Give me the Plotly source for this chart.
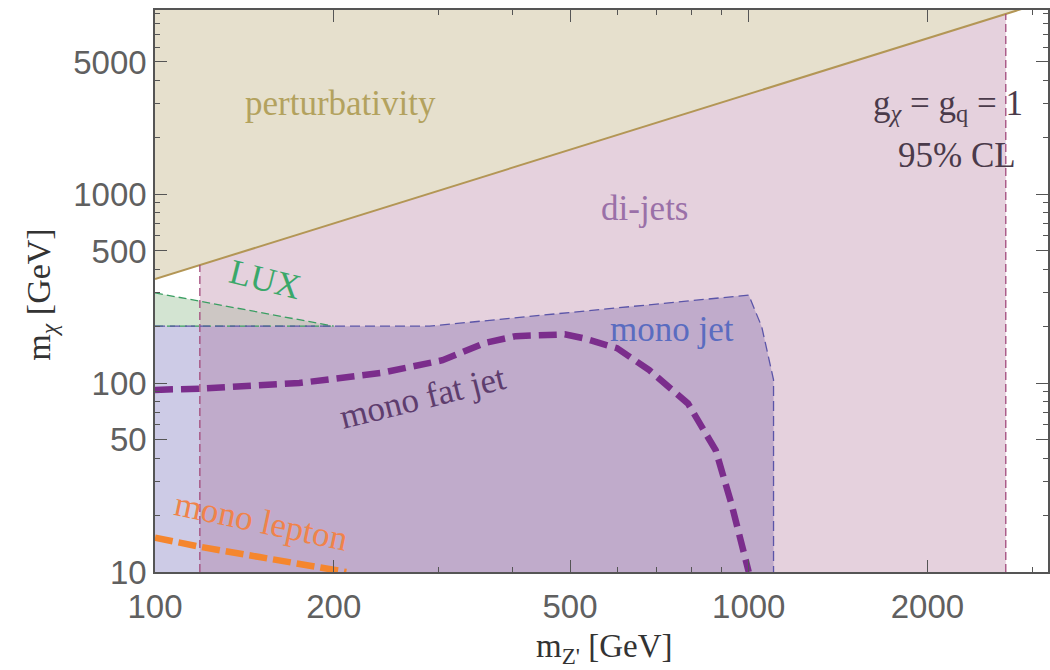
import numpy as np
import plotly.graph_objects as go

# ---------------- data (GeV) ----------------
X_RANGE = [100, 3192]
Y_RANGE = [10, 9420]

pert_x = [100, 3200]          # perturbativity bound
pert_y = [355, 10570]

dijet_bounds = [119, 2710]     # di-jet excluded Z' mass window

lux_x = [100, 200]
lux_y = [300, 200]

mono_x = [100, 290, 1000, 1052, 1101, 1101]
mono_y = [200, 200, 292, 198, 104, 10]

fat_x = [100, 120, 175, 240, 305, 360, 405, 490, 525, 600, 680, 790, 880, 935, 1000]
fat_y = [92, 93.5, 100, 113, 132, 163, 177, 181, 173, 153, 117, 78, 44, 23, 10]

lep_x = [100, 119, 150, 200, 210]
lep_y = [15.2, 13.6, 12.0, 10.4, 10.0]

x_ticks = [100, 200, 500, 1000, 2000]
x_minor = [300, 400, 600, 700, 800, 900, 3000]
y_ticks = [10, 50, 100, 500, 1000, 5000]
y_minor = [20, 30, 40, 60, 70, 80, 90, 200, 300, 400, 600, 700, 800, 900,
           2000, 3000, 4000, 6000, 7000, 8000, 9000]

# ---------------- colours ----------------
C_PERT_FILL = "#e6e0cd"
C_PERT_LINE = "#b39655"
C_DIJET_FILL = "#e5d1dd"
C_DIJET_LINE = "#a24a7c"
C_MONO_ONLY = "#cdcbe6"
C_MONO_OVER = "#c0abcb"
C_MONO_LINE = "#5b55a8"
C_LUX_ONLY = "#d3e4d2"
C_LUX_OVER = "#cdc7c4"
C_LUX_LINE = "#3a9e62"
C_FAT = "#7b2d8c"
C_LEP = "#f5862e"


def loginterp(x, xs, ys):
    return float(10 ** np.interp(np.log10(x), np.log10(xs), np.log10(ys)))


d0, d1 = dijet_bounds
ymin, ytop = Y_RANGE[0], Y_RANGE[1] * 10
mono_top = lambda x: loginterp(x, mono_x[:3], mono_y[:3])
lux_top = lambda x: loginterp(x, lux_x, lux_y)
pert = lambda x: loginterp(x, pert_x, pert_y)

fig = go.Figure()


def poly(xs, ys, color):
    fig.add_trace(go.Scatter(x=xs, y=ys, fill="toself", fillcolor=color,
                             mode="lines", line=dict(width=0), hoverinfo="skip"))


def line(xs, ys, color, width, dash="solid"):
    fig.add_trace(go.Scatter(x=xs, y=ys, mode="lines",
                             line=dict(color=color, width=width, dash=dash),
                             hoverinfo="skip"))


# di-jets
poly([d0, d0, d1, d1], [ymin, pert(d0), pert(d1), ymin], C_DIJET_FILL)
# perturbativity
poly(pert_x + pert_x[::-1], pert_y + [ytop, ytop], C_PERT_FILL)
# LUX
poly([lux_x[0], d0, d0, lux_x[0]],
     [lux_y[0], lux_top(d0), mono_top(d0), mono_top(lux_x[0])], C_LUX_ONLY)
poly([d0] + lux_x[1:] + [d0], [lux_top(d0)] + lux_y[1:] + [mono_top(d0)], C_LUX_OVER)
# mono jet
poly(mono_x + [mono_x[0]], mono_y + [ymin], C_MONO_OVER)
poly([mono_x[0], mono_x[0], d0, d0], [ymin, mono_y[0], mono_top(d0), ymin], C_MONO_ONLY)

# boundary lines
line(pert_x, pert_y, C_PERT_LINE, 2)
line([d0, d0], [ymin, pert(d0)], C_DIJET_LINE, 1.3, "8px,4px")
line([d1, d1], [ymin, pert(d1)], C_DIJET_LINE, 1.3, "8px,4px")
line(lux_x, lux_y, C_LUX_LINE, 1.3, "8px,4px")
line([lux_x[0], lux_x[-1]], [mono_top(lux_x[0]), mono_top(lux_x[-1])], C_LUX_LINE, 1.3, "8px,4px")
line(mono_x, mono_y, C_MONO_LINE, 1.3, "10px,5px")
line(fat_x, fat_y, C_FAT, 6.5, "18px,8px")
line(lep_x, lep_y, C_LEP, 6.5, "18px,6px")

SERIF = "Liberation Serif"


def label(text, x, y, color, size=35, angle=0, xanchor="center", yanchor="middle"):
    fig.add_annotation(x=np.log10(x), y=np.log10(y), xref="x", yref="y", text=text,
                       showarrow=False, textangle=angle, xanchor=xanchor, yanchor=yanchor,
                       font=dict(family=SERIF, size=size, color=color))


label("perturbativity", 205, 3030, "#b3a25e")
label("di-jets", 667, 843, "#9a70a8")
label("LUX", 153, 351, "#3aa86a", angle=14)
label("mono jet", 743, 191, "#5a6cc0")
label("mono fat jet", 282, 84, "#5e3d6e", angle=-14)
label("mono lepton", 151, 18.4, "#f0834a", angle=12)
label("g<sub><i>χ</i></sub> = g<sub>q</sub> = 1", 2924, 2950, "#4a3a4a", xanchor="right")
label("95% CL", 2845, 1600, "#4a3a4a", xanchor="right")

# axis titles
fig.add_annotation(x=0.503, y=-0.136, xref="paper", yref="paper",
                   xanchor="center", yanchor="middle",
                   text="m<sub>Z'</sub> [GeV]", showarrow=False,
                   font=dict(family=SERIF, size=33, color="#333"))
fig.add_annotation(x=-0.128, y=0.493, xref="paper", yref="paper",
                   xanchor="center", yanchor="middle",
                   text="m<sub><i>χ</i></sub> [GeV]", showarrow=False, textangle=-90,
                   font=dict(family=SERIF, size=34, color="#333"))

TICKFONT = dict(family="Liberation Sans Narrow, Liberation Sans, sans-serif", size=33, color="#606060")
axis_common = dict(type="log", showgrid=False, zeroline=False, showline=True,
                   linecolor="#555", linewidth=1.5, mirror="allticks",
                   ticks="inside", ticklen=12, tickwidth=1.2, tickcolor="#555",
                   tickfont=TICKFONT, tickmode="array")

fig.update_xaxes(range=[np.log10(v) for v in X_RANGE], tickvals=x_ticks,
                 ticktext=[str(v) for v in x_ticks], ticklabelstandoff=5,
                 minor=dict(tickvals=x_minor, ticks="inside", ticklen=5, tickcolor="#555", tickwidth=1),
                 **axis_common)
fig.update_yaxes(range=[np.log10(v) for v in Y_RANGE], tickvals=y_ticks,
                 ticktext=[str(v) for v in y_ticks],
                 minor=dict(tickvals=y_minor, ticks="inside", ticklen=5, tickcolor="#555", tickwidth=1),
                 **axis_common)

fig.update_layout(width=1050, height=670, showlegend=False,
                  margin=dict(l=155, r=0, t=10, b=98),
                  plot_bgcolor="white", paper_bgcolor="white", hovermode=False)

fig.write_html("out.html")
